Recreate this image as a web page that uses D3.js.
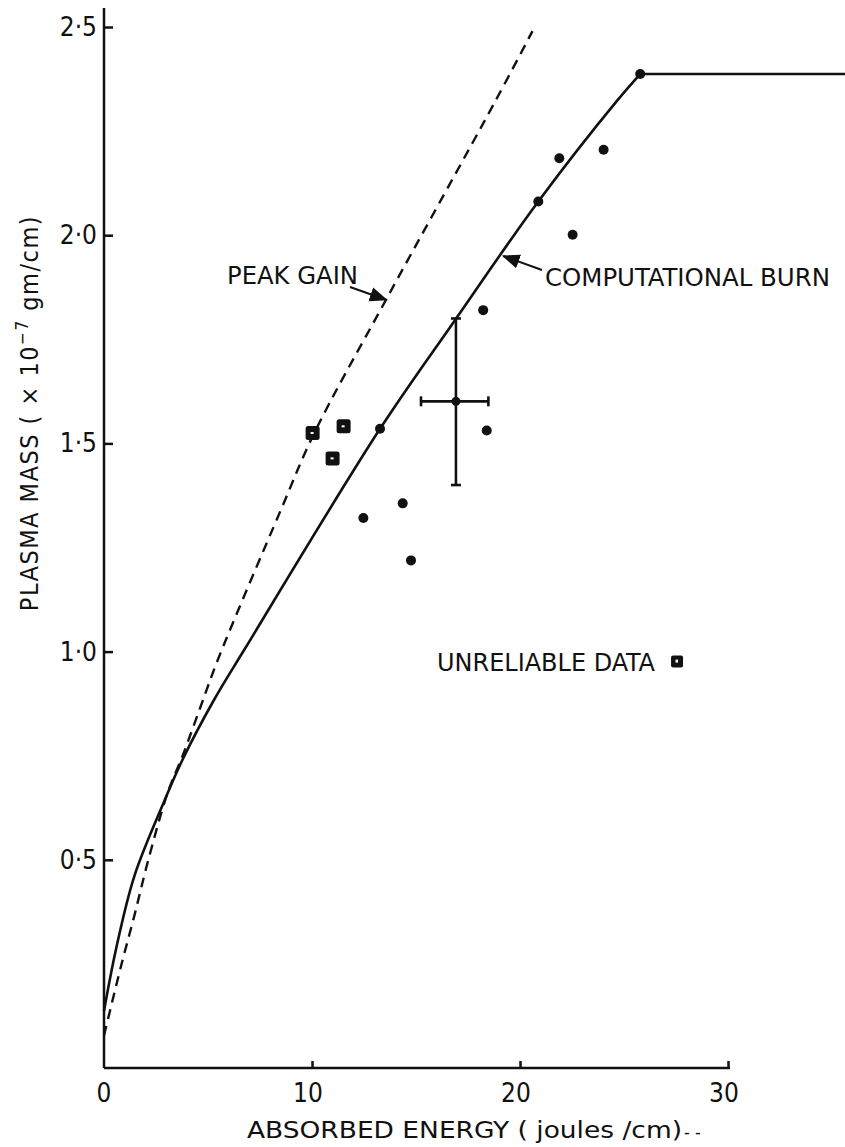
<!DOCTYPE html>
<html>
<head>
<meta charset="utf-8">
<script src="https://cdn.jsdelivr.net/npm/d3@7"></script>
<style>
  body { margin: 0; background: #fff; }
  text { font-family: "DejaVu Sans Condensed", "DejaVu Sans", sans-serif; fill: #111; }
</style>
</head>
<body>
<div id="chart"></div>
<script>
// tick labels
const xTicks = [10, 20, 30];
const yTicks = [0.5, 1.0, 1.5, 2.0, 2.5];
const yTickLabels = ["0·5", "1·0", "1·5", "2·0", "2·5"];

// computational burn curve (solid), rising part then the flat plateau
const burnX = [0, 0.58, 1.46, 2.9, 3.78, 5.3, 6.75, 13.27, 16.79, 20.88, 24.7, 25.78];
const burnY = [0.137, 0.286, 0.461, 0.641, 0.741, 0.885, 1.005, 1.535, 1.790, 2.081, 2.325, 2.387];
const plateauX = [25.78, 35.8];
const plateauY = [2.387, 2.387];

// peak gain curve (dashed)
const gainX = [0, 0.82, 1.46, 2.1, 3.06, 3.78, 4.66, 5.47, 8.51, 10.11, 13.56, 18.76, 20.6];
const gainY = [0.078, 0.245, 0.366, 0.494, 0.661, 0.75, 0.87, 0.98, 1.341, 1.525, 1.845, 2.317, 2.49];

// measured points (dots)
const dotX = [12.47, 13.27, 14.36, 14.76, 18.23, 18.40, 20.88, 21.89, 22.53, 24.02, 25.78];
const dotY = [1.321, 1.535, 1.356, 1.219, 1.820, 1.531, 2.081, 2.185, 2.001, 2.205, 2.387];

// square points
const squareX = [10.03, 11.52, 10.99];
const squareY = [1.525, 1.541, 1.464];

// error bar point
const errX = 16.92, errY = 1.601;
const errXLo = 15.24, errXHi = 18.48;
const errYLo = 1.40, errYHi = 1.80;

// legend symbol for unreliable data
const unreliableX = 27.55, unreliableY = 0.976;

const W = 845, H = 1147;
const svg = d3.select("#chart")
    .append("svg")
    .attr("width", W)
    .attr("height", H);

const x = d3.scaleLinear().domain([0, 30]).range([104, 728]);
const y = d3.scaleLinear().domain([0, 2.5]).range([1068, 27]);

// axes (ticks point inward)
const xAxis = svg.append("g")
    .attr("transform", `translate(0,${y(0)})`)
    .call(d3.axisTop(x).tickValues(xTicks).tickSize(7).tickFormat(""));
xAxis.select(".domain").attr("d", `M${x(0)},0H${x(30) + 2}`);

const yAxis = svg.append("g")
    .attr("transform", `translate(${x(0)},0)`)
    .call(d3.axisRight(y).tickValues(yTicks).tickSize(9).tickFormat(""));
yAxis.select(".domain").attr("d", `M0,${y(0)}V8`);

svg.selectAll(".domain, .tick line")
    .attr("stroke", "#111")
    .attr("stroke-width", 2.5);

// tick labels
svg.append("g").selectAll("text")
    .data(yTicks)
    .enter().append("text")
    .attr("x", x(0) - 7)
    .attr("y", d => y(d) + 9)
    .attr("text-anchor", "end")
    .attr("font-size", 26)
    .text((d, i) => yTickLabels[i]);

svg.append("g").selectAll("text")
    .data([0].concat(xTicks))
    .enter().append("text")
    .attr("x", d => x(d) - (d === 0 ? 0 : 4))
    .attr("y", y(0) + 34)
    .attr("text-anchor", "middle")
    .attr("font-size", 26)
    .text(d => d);

// axis titles
svg.append("text")
    .attr("x", 247)
    .attr("y", 1138)
    .attr("font-size", 23)
    .attr("textLength", 435)
    .attr("lengthAdjust", "spacingAndGlyphs")
    .text("ABSORBED  ENERGY ( joules /cm)");
svg.append("text")
    .attr("x", 684)
    .attr("y", 1138)
    .attr("font-size", 18)
    .text("- -");

const yTitle = svg.append("text")
    .attr("transform", "rotate(-90)")
    .attr("x", -413)
    .attr("y", 38)
    .attr("text-anchor", "middle")
    .attr("font-size", 25)
    .attr("letter-spacing", 1.5);
yTitle.append("tspan").text("PLASMA MASS ( × 10");
yTitle.append("tspan").attr("dy", -10).attr("font-size", 17).text("−7");
yTitle.append("tspan").attr("dy", 10).text(" gm/cm)");

// curves
const smooth = d3.line().x(d => x(d[0])).y(d => y(d[1])).curve(d3.curveCatmullRom.alpha(0.5));

svg.append("path")
    .datum(burnX.map((v, i) => [v, burnY[i]]))
    .attr("d", smooth)
    .attr("fill", "none")
    .attr("stroke", "#111")
    .attr("stroke-width", 2.6);

svg.append("path")
    .datum(plateauX.map((v, i) => [v, plateauY[i]]))
    .attr("d", d3.line().x(d => x(d[0])).y(d => y(d[1])))
    .attr("fill", "none")
    .attr("stroke", "#111")
    .attr("stroke-width", 2.6);

svg.append("path")
    .datum(gainX.map((v, i) => [v, gainY[i]]))
    .attr("d", smooth)
    .attr("fill", "none")
    .attr("stroke", "#111")
    .attr("stroke-width", 2.4)
    .attr("stroke-dasharray", "10,7");

// error bar
const eb = svg.append("g").attr("stroke", "#111").attr("stroke-width", 2.6);
eb.append("line").attr("x1", x(errX)).attr("x2", x(errX)).attr("y1", y(errYLo)).attr("y2", y(errYHi));
eb.append("line").attr("x1", x(errXLo)).attr("x2", x(errXHi)).attr("y1", y(errY)).attr("y2", y(errY));
eb.append("line").attr("x1", x(errX) - 5).attr("x2", x(errX) + 5).attr("y1", y(errYLo)).attr("y2", y(errYLo));
eb.append("line").attr("x1", x(errX) - 5).attr("x2", x(errX) + 5).attr("y1", y(errYHi)).attr("y2", y(errYHi));
eb.append("line").attr("x1", x(errXLo)).attr("x2", x(errXLo)).attr("y1", y(errY) - 5).attr("y2", y(errY) + 5);
eb.append("line").attr("x1", x(errXHi)).attr("x2", x(errXHi)).attr("y1", y(errY) - 5).attr("y2", y(errY) + 5);
svg.append("circle").attr("cx", x(errX)).attr("cy", y(errY)).attr("r", 4.5).attr("fill", "#111");

// dots
svg.append("g").selectAll("circle")
    .data(dotX)
    .enter().append("circle")
    .attr("cx", d => x(d))
    .attr("cy", (d, i) => y(dotY[i]))
    .attr("r", 5)
    .attr("fill", "#111");

// squares
const sq = svg.append("g").selectAll("g")
    .data(squareX)
    .enter().append("g")
    .attr("transform", (d, i) => `translate(${x(d)},${y(squareY[i])})`);
sq.append("rect")
    .attr("x", -7).attr("y", -7).attr("width", 14).attr("height", 14)
    .attr("rx", 2.5)
    .attr("fill", "#111");
sq.append("rect")
    .attr("x", -2).attr("y", -1).attr("width", 3).attr("height", 2)
    .attr("fill", "#fff");

// unreliable data label
svg.append("text")
    .attr("x", 437)
    .attr("y", y(unreliableY) + 9)
    .attr("font-size", 24)
    .attr("textLength", 218)
    .attr("lengthAdjust", "spacingAndGlyphs")
    .text("UNRELIABLE  DATA");
const us = svg.append("g").attr("transform", `translate(${x(unreliableX)},${y(unreliableY)})`);
us.append("rect").attr("x", -6).attr("y", -6).attr("width", 12).attr("height", 12).attr("rx", 2).attr("fill", "#111");
us.append("rect").attr("x", -1.5).attr("y", -2).attr("width", 2.5).attr("height", 3).attr("fill", "#fff");

// annotations with arrows
svg.append("defs").append("marker")
    .attr("id", "arrow")
    .attr("viewBox", "0 0 10 10")
    .attr("refX", 9).attr("refY", 5)
    .attr("markerWidth", 9).attr("markerHeight", 9)
    .attr("orient", "auto")
    .append("path")
    .attr("d", "M0,1L10,5L0,9z")
    .attr("fill", "#111");

svg.append("text")
    .attr("x", 227)
    .attr("y", 284)
    .attr("font-size", 24)
    .attr("textLength", 131)
    .attr("lengthAdjust", "spacingAndGlyphs")
    .text("PEAK GAIN");
svg.append("line")
    .attr("x1", 350).attr("y1", 287)
    .attr("x2", x(13.56)).attr("y2", y(1.845))
    .attr("stroke", "#111").attr("stroke-width", 2)
    .attr("marker-end", "url(#arrow)");

svg.append("text")
    .attr("x", 545)
    .attr("y", 286)
    .attr("font-size", 24)
    .attr("textLength", 285)
    .attr("lengthAdjust", "spacingAndGlyphs")
    .text("COMPUTATIONAL BURN");
svg.append("line")
    .attr("x1", 542).attr("y1", 270)
    .attr("x2", x(19.2)).attr("y2", y(1.95))
    .attr("stroke", "#111").attr("stroke-width", 2)
    .attr("marker-end", "url(#arrow)");
</script>
</body>
</html>
